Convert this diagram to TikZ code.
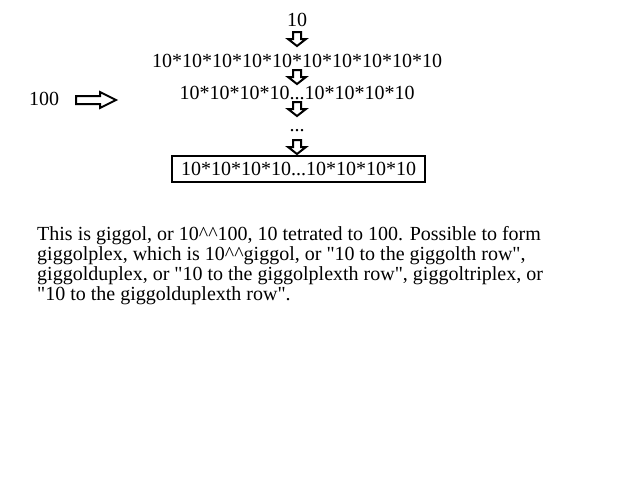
\documentclass[tikz,border=0pt]{standalone}
\usepackage{fontspec}
\setmainfont{Liberation Serif}[Ligatures=TeXOff]
\newcommand{\q}{\symbol{34}}
\begin{document}
\begin{tikzpicture}[x=1pt,y=-1pt,
  txt/.style={inner sep=0pt,font=\fontsize{20}{20}\selectfont,anchor=center},
  blk/.style={draw,line width=2pt,fill=white,line join=miter},
  dnarrow/.pic={\path[blk] (-4,-7)--(4,-7)--(4,0)--(9,0)--(0,7)--(-9,0)--(-4,0)--cycle;},
  rtarrow/.pic={\path[blk] (-20,-4)--(4,-4)--(4,-8)--(20,0)--(4,8)--(4,4)--(-20,4)--cycle;}]
\useasboundingbox (0,0) rectangle (640,480);
\fill[white] (0,0) rectangle (640,480);
\node[txt] (ten) at (297,20) {10};
\node[txt] (r1) at (297,61) {10*10*10*10*10*10*10*10*10*10};
\node[txt] (r2) at (297,93) {10*10*10*10...10*10*10*10};
\node[txt] (dots) at (297,131) {...};
\node[txt,draw,line width=2pt,minimum width=253,minimum height=26] (fin) at (298.5,169) {10*10*10*10...10*10*10*10};
\node[txt] (h) at (44,99) {100};
\pic at (297,39) {dnarrow};
\pic at (297,77) {dnarrow};
\pic at (297,109) {dnarrow};
\pic at (297,147) {dnarrow};
\pic at (96,100) {rtarrow};
\node[txt,anchor=north west,align=left,font=\fontsize{20}{20}\selectfont] (para) at (37,226)
{This is giggol, or 10\^{}\^{}100, 10 tetrated to 100. Possible to form\\
giggolplex, which is 10\^{}\^{}giggol, or \q10 to the giggolth row\q,\\
giggolduplex, or \q10 to the giggolplexth row\q, giggoltriplex, or\\
\q10 to the giggolduplexth row\q.};
\end{tikzpicture}
\end{document}
